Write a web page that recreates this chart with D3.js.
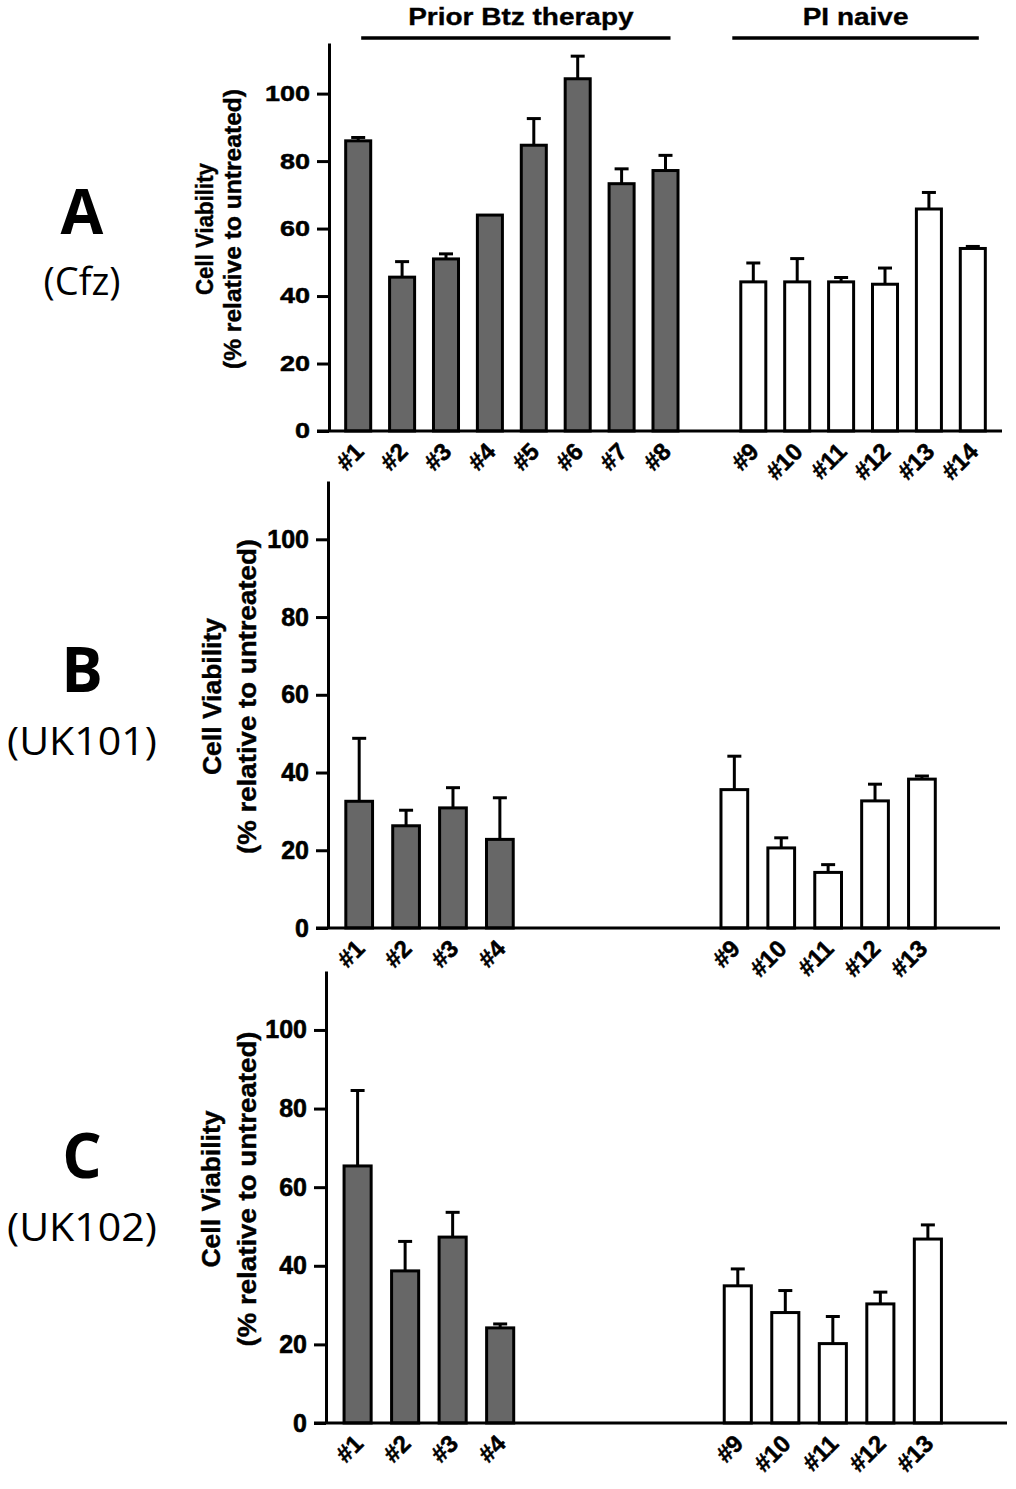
<!DOCTYPE html>
<html><head><meta charset="utf-8">
<script src="https://cdn.jsdelivr.net/npm/d3@7"></script>
<style>body{margin:0;background:#fff}</style>
</head><body>
<svg id="chart" width="1016" height="1489"></svg>
<script>
// ---------- data ----------
const yTicks = [0, 20, 40, 60, 80, 100];
const groupTitles = ["Prior Btz therapy", "PI naive"];
const panelLetters = ["A", "B", "C"];
const panelDrugs = ["(Cfz)", "(UK101)", "(UK102)"];
const yTitle1 = "Cell Viability";
const yTitle2 = "(% relative to untreated)";

const catsA  = ["#1","#2","#3","#4","#5","#6","#7","#8","#9","#10","#11","#12","#13","#14"];
const groupA = ["prior","prior","prior","prior","prior","prior","prior","prior","naive","naive","naive","naive","naive","naive"];
const valsA  = [86.0, 45.6, 51.0, 64.0, 84.7, 104.4, 73.3, 77.2, 44.2, 44.2, 44.2, 43.5, 65.8, 54.1];
const errA   = [1.0, 4.6, 1.5, 0, 7.9, 6.7, 4.4, 4.5, 5.6, 6.9, 1.3, 4.8, 4.9, 0.6];

const catsB  = ["#1","#2","#3","#4","#9","#10","#11","#12","#13"];
const groupB = ["prior","prior","prior","prior","naive","naive","naive","naive","naive"];
const valsB  = [32.6, 26.3, 30.9, 22.8, 35.6, 20.6, 14.3, 32.7, 38.3];
const errB   = [16.2, 4.0, 5.2, 10.7, 8.6, 2.6, 2.0, 4.3, 0.8];

const catsC  = ["#1","#2","#3","#4","#9","#10","#11","#12","#13"];
const groupC = ["prior","prior","prior","prior","naive","naive","naive","naive","naive"];
const valsC  = [65.4, 38.7, 47.3, 24.2, 34.9, 28.1, 20.2, 30.3, 46.8];
const errC   = [19.2, 7.5, 6.3, 1.0, 4.3, 5.6, 6.9, 3.0, 3.6];

// ---------- layout ----------
const svg = d3.select("#chart");
const FONT = "'Liberation Sans', Arial, Helvetica, sans-serif";
const fillFor = g => g === "prior" ? "#676767" : "#ffffff";

const panels = [
  {cats: catsA, groups: groupA, vals: valsA, errs: errA, x0: 329, x1: 1002, y0: 431, yTop: 43,
   gapAfter: 7, gapN: 1, trail: 0, ySquash: 0.8, tickFont: 27, xlabFont: 24,
   t1Len: 132, t2Len: 280, t1x: 205, t2x: 233, tFont: 23, drugLen: 77,
   letterY: 234, drugY: 295, drug: panelDrugs[0], letter: panelLetters[0], headers: true},
  {cats: catsB, groups: groupB, vals: valsB, errs: errB, x0: 328, x1: 1000, y0: 928, yTop: 481,
   gapAfter: 3, gapN: 4, trail: 1, ySquash: 1, tickFont: 25, xlabFont: 24,
   t1Len: 157, t2Len: 315, t1x: 212, t2x: 247, tFont: 25, drugLen: 150,
   letterY: 692, drugY: 755, drug: panelDrugs[1], letter: panelLetters[1], headers: false},
  {cats: catsC, groups: groupC, vals: valsC, errs: errC, x0: 326, x1: 1007, y0: 1423, yTop: 971,
   gapAfter: 3, gapN: 4, trail: 1, ySquash: 1, tickFont: 25, xlabFont: 24,
   t1Len: 157, t2Len: 315, t1x: 211, t2x: 247, tFont: 25, drugLen: 150,
   letterY: 1178, drugY: 1241, drug: panelDrugs[2], letter: panelLetters[2], headers: false}
];

panels.forEach((p, pi) => {
  const g = svg.append("g");
  const slots = [];
  p.cats.forEach((c, i) => {
    slots.push(c);
    if (i === p.gapAfter) for (let k = 0; k < p.gapN; k++) slots.push("_gap" + k);
  });
  for (let k = 0; k < p.trail; k++) slots.push("_trail" + k);

  const x = d3.scaleBand().domain(slots).range([p.x0, p.x1]).paddingInner(0.43).paddingOuter(0.38);
  const y = d3.scaleLinear().domain([0, 115]).range([p.y0, p.yTop]);
  const bw = x.bandwidth();
  const data = p.cats.map((c, i) => ({c, v: p.vals[i], e: p.errs[i], g: p.groups[i]}));

  // error bars (upper only)
  const eb = g.append("g").attr("stroke", "#000").attr("stroke-width", 3);
  data.filter(d => d.e > 0).forEach(d => {
    const cx = x(d.c) + bw / 2;
    eb.append("line").attr("x1", cx).attr("x2", cx).attr("y1", y(d.v)).attr("y2", y(d.v + d.e));
    eb.append("line").attr("x1", cx - 7).attr("x2", cx + 7).attr("y1", y(d.v + d.e)).attr("y2", y(d.v + d.e));
  });

  // bars
  g.append("g").selectAll("rect").data(data).join("rect")
    .attr("x", d => x(d.c)).attr("width", bw)
    .attr("y", d => y(d.v)).attr("height", d => y(0) - y(d.v))
    .attr("fill", d => fillFor(d.g)).attr("stroke", "#000").attr("stroke-width", 3);

  // y axis
  const ya = g.append("g").attr("transform", `translate(${p.x0},0)`)
    .call(d3.axisLeft(y).tickValues(yTicks).tickSize(12).tickPadding(7).tickSizeOuter(0));
  ya.select(".domain").attr("stroke-width", 3);
  ya.selectAll(".tick line").attr("stroke-width", 3);
  ya.selectAll(".tick text").attr("font-family", FONT).attr("font-weight", "bold")
    .attr("font-size", p.tickFont).attr("fill", "#000")
    .attr("stroke", "#000").attr("stroke-width", 0.6)
    .attr("transform", `scale(1,${p.ySquash})`);

  // x baseline
  g.append("line").attr("x1", p.x0 - 12).attr("x2", p.x1).attr("y1", p.y0).attr("y2", p.y0)
    .attr("stroke", "#000").attr("stroke-width", 3);

  // x labels
  g.append("g").selectAll("text").data(data).join("text")
    .attr("transform", d => `translate(${x(d.c) + bw / 2 + 7},${p.y0 + 22}) rotate(-45)`)
    .attr("text-anchor", "end").attr("font-family", FONT).attr("font-weight", "bold")
    .attr("stroke", "#000").attr("stroke-width", 0.5)
    .attr("font-size", p.xlabFont).text(d => d.c);

  // y title
  const midY = (p.y0 + p.yTop) / 2 - 8;
  [[yTitle1, p.t1x, p.t1Len], [yTitle2, p.t2x, p.t2Len]].forEach(([t, tx, len]) => {
    g.append("text").attr("transform", `translate(${tx},${midY}) rotate(-90)`)
      .attr("text-anchor", "middle").attr("dominant-baseline", "central")
      .attr("font-family", FONT).attr("font-weight", "bold").attr("font-size", p.tFont)
      .attr("stroke", "#000").attr("stroke-width", 0.4)
      .attr("textLength", len).attr("lengthAdjust", "spacingAndGlyphs").text(t);
  });

  // panel letter and drug
  g.append("text").attr("x", 82).attr("y", p.letterY).attr("text-anchor", "middle")
    .attr("font-family", "'Open Sans', 'Noto Sans', sans-serif").attr("font-weight", "bold")
    .attr("font-size", 62).text(p.letter);
  g.append("text").attr("x", 82).attr("y", p.drugY).attr("text-anchor", "middle")
    .attr("font-family", "'Open Sans', 'Noto Sans', sans-serif")
    .attr("font-size", 38).attr("textLength", p.drugLen).attr("lengthAdjust", "spacingAndGlyphs")
    .text(p.drug);

  // group headers
  if (p.headers) {
    const c = k => x(k) + bw / 2;
    const hdr = [
      {t: groupTitles[0], a: c("#1") + 3, b: c("#8") + 5},
      {t: groupTitles[1], a: c("#9") - 21, b: c("#14") + 6}
    ];
    hdr.forEach(h => {
      g.append("line").attr("x1", h.a).attr("x2", h.b).attr("y1", 38).attr("y2", 38)
        .attr("stroke", "#000").attr("stroke-width", 3.5);
      const mid = (h.a + h.b) / 2 + (h.t === groupTitles[0] ? 5 : 0);
      g.append("text").attr("transform", `translate(${mid},25) scale(1,0.85)`)
        .attr("text-anchor", "middle").attr("font-family", FONT).attr("font-weight", "bold")
        .attr("stroke", "#000").attr("stroke-width", 0.4)
        .attr("font-size", 28).text(h.t);
    });
  }
});
</script>
</body></html>
